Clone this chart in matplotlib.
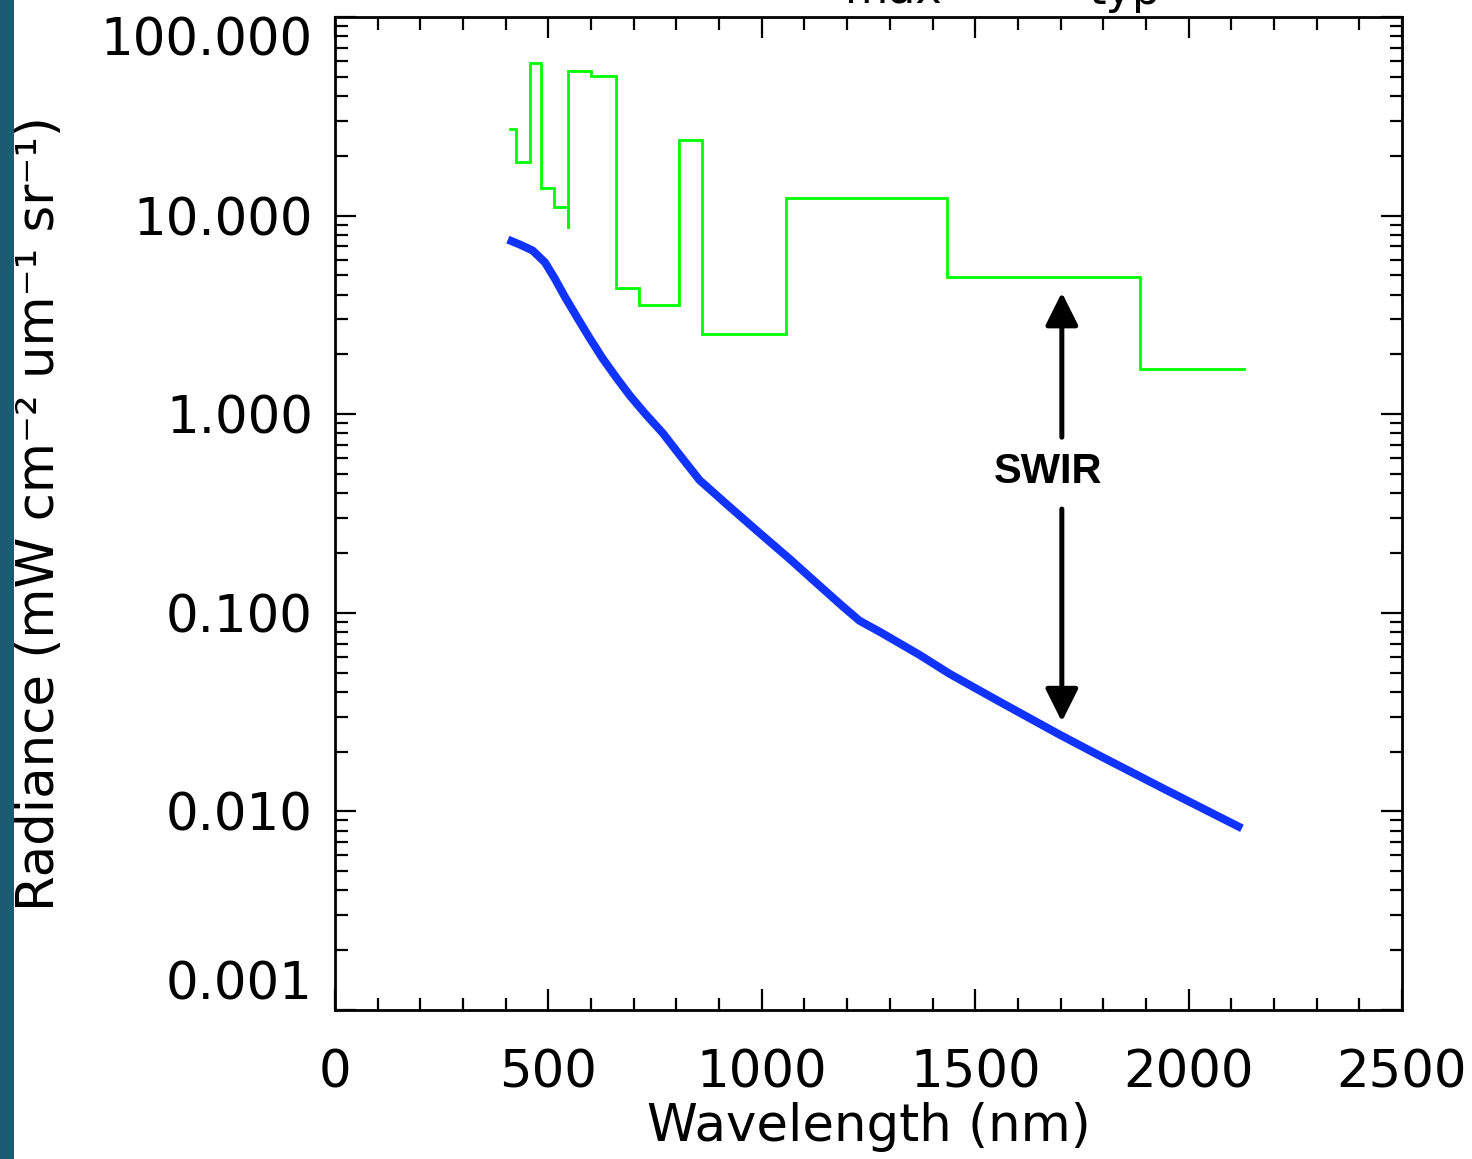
import matplotlib
matplotlib.use("Agg")
import matplotlib.pyplot as plt
from matplotlib.ticker import MultipleLocator, LogLocator, FixedFormatter, FixedLocator, NullFormatter
from matplotlib.patches import Rectangle

# ---- data ----
green_edges = [410, 424, 456, 482, 513, 545, 547, 599, 658, 712, 805, 861, 1056, 1435, 1887, 2130]
green_values = [27.4, 18.7, 58.8, 13.8, 11.1, 8.7, 53.6, 50.6, 4.30, 3.53, 24.1, 2.52, 12.2, 4.93, 1.68]

blue_wl = [405, 433, 463, 492, 515, 538, 569, 597, 627, 660, 691, 726, 768, 808, 854, 925, 995,
           1065, 1135, 1189, 1229, 1276, 1369, 1440, 1557, 1697, 1791, 1948, 2125]
blue_rad = [7.57, 7.15, 6.67, 5.81, 4.82, 3.92, 3.03, 2.41, 1.91, 1.52, 1.24, 1.01, 0.803, 0.622,
            0.466, 0.341, 0.252, 0.187, 0.137, 0.108, 0.0912, 0.0803, 0.0615, 0.0493, 0.0357,
            0.0244, 0.0191, 0.0128, 0.00822]

xticks = [0, 500, 1000, 1500, 2000, 2500]
xtick_labels = ["0", "500", "1000", "1500", "2000", "2500"]
yticks = [0.001, 0.01, 0.1, 1, 10, 100]
ytick_labels = ["0.001", "0.010", "0.100", "1.000", "10.000", "100.000"]

arrow_x = 1703
arrow_top, arrow_top_start = 4.10, 0.766
arrow_bot, arrow_bot_start = 0.0283, 0.333
swir_y = 0.511

# ---- figure ----
W, H = 1472, 1159
fig = plt.figure(figsize=(W / 100, H / 100), dpi=100)
fig.patch.set_facecolor("white")
fig.patches.append(Rectangle((0, 0), 14 / W, 1, transform=fig.transFigure,
                             facecolor="#1c5b73", edgecolor="none", zorder=0))

ax = fig.add_axes([335 / W, 1 - 1010 / H, (1402 - 335) / W, (1010 - 17) / H])
ax.set_yscale("log")
ax.set_xlim(0, 2500)
ax.set_ylim(0.001, 100)

fam = ["DejaVu Sans"]
tick_fs = 37

# green step line
gx, gy = [], []
for i, v in enumerate(green_values):
    gx += [green_edges[i], green_edges[i + 1]]
    gy += [v, v]
ax.plot(gx, gy, color="#00ff00", lw=2.0, solid_joinstyle="miter")

# blue curve
ax.plot(blue_wl, blue_rad, color="#1133ff", lw=5.8, solid_capstyle="butt", solid_joinstyle="round")

# arrows + label
ap = dict(arrowstyle="-|>,head_length=1.0,head_width=0.5", color="black", lw=3.6,
          shrinkA=0, shrinkB=0, mutation_scale=20)
ax.annotate("", xy=(arrow_x, arrow_top), xytext=(arrow_x, arrow_top_start), arrowprops=ap)
ax.annotate("", xy=(arrow_x, arrow_bot), xytext=(arrow_x, arrow_bot_start), arrowprops=ap)
ax.text(arrow_x - 33, swir_y, "SWIR", fontsize=30, fontweight="bold", family="Liberation Sans",
        ha="center", va="center", color="black")

# ticks
ax.xaxis.set_major_locator(FixedLocator(xticks))
ax.xaxis.set_major_formatter(FixedFormatter(xtick_labels))
ax.xaxis.set_minor_locator(MultipleLocator(100))
ax.yaxis.set_major_locator(FixedLocator(yticks))
ax.yaxis.set_major_formatter(FixedFormatter(ytick_labels))
ax.yaxis.set_minor_locator(LogLocator(base=10, subs=range(2, 10), numticks=20))
ax.yaxis.set_minor_formatter(NullFormatter())

ax.tick_params(which="both", direction="in", top=True, right=True, width=1.6, color="black")
ax.tick_params(which="major", length=15)
ax.tick_params(which="minor", length=9)
ax.tick_params(axis="x", which="major", pad=28)
ax.tick_params(axis="y", which="major", pad=16)
for lab in ax.get_xticklabels() + ax.get_yticklabels():
    lab.set_fontsize(tick_fs)
    lab.set_family(fam)
ylabs = ax.get_yticklabels()
ylabs[0].set_va("bottom")
ylabs[-1].set_va("top")
for s in ax.spines.values():
    s.set_linewidth(2)

ax.set_xlabel("Wavelength (nm)", fontsize=37, family=fam, labelpad=2)
ax.set_ylabel("Radiance (mW cm\u207b\u00b2 um\u207b\u00b9 sr\u207b\u00b9)", fontsize=tick_fs,
              family=fam)
ax.yaxis.set_label_coords(-0.253, 0.5)

# partially visible legend text at top edge
fig.text(893 / W, 1 - 4 / H, "max", fontsize=32, family=fam, ha="center", va="baseline")
fig.text(1125 / W, 1 - 4 / H, "typ", fontsize=32, family=fam, ha="center", va="baseline")

fig.savefig("out.png", dpi=100, facecolor="white")
